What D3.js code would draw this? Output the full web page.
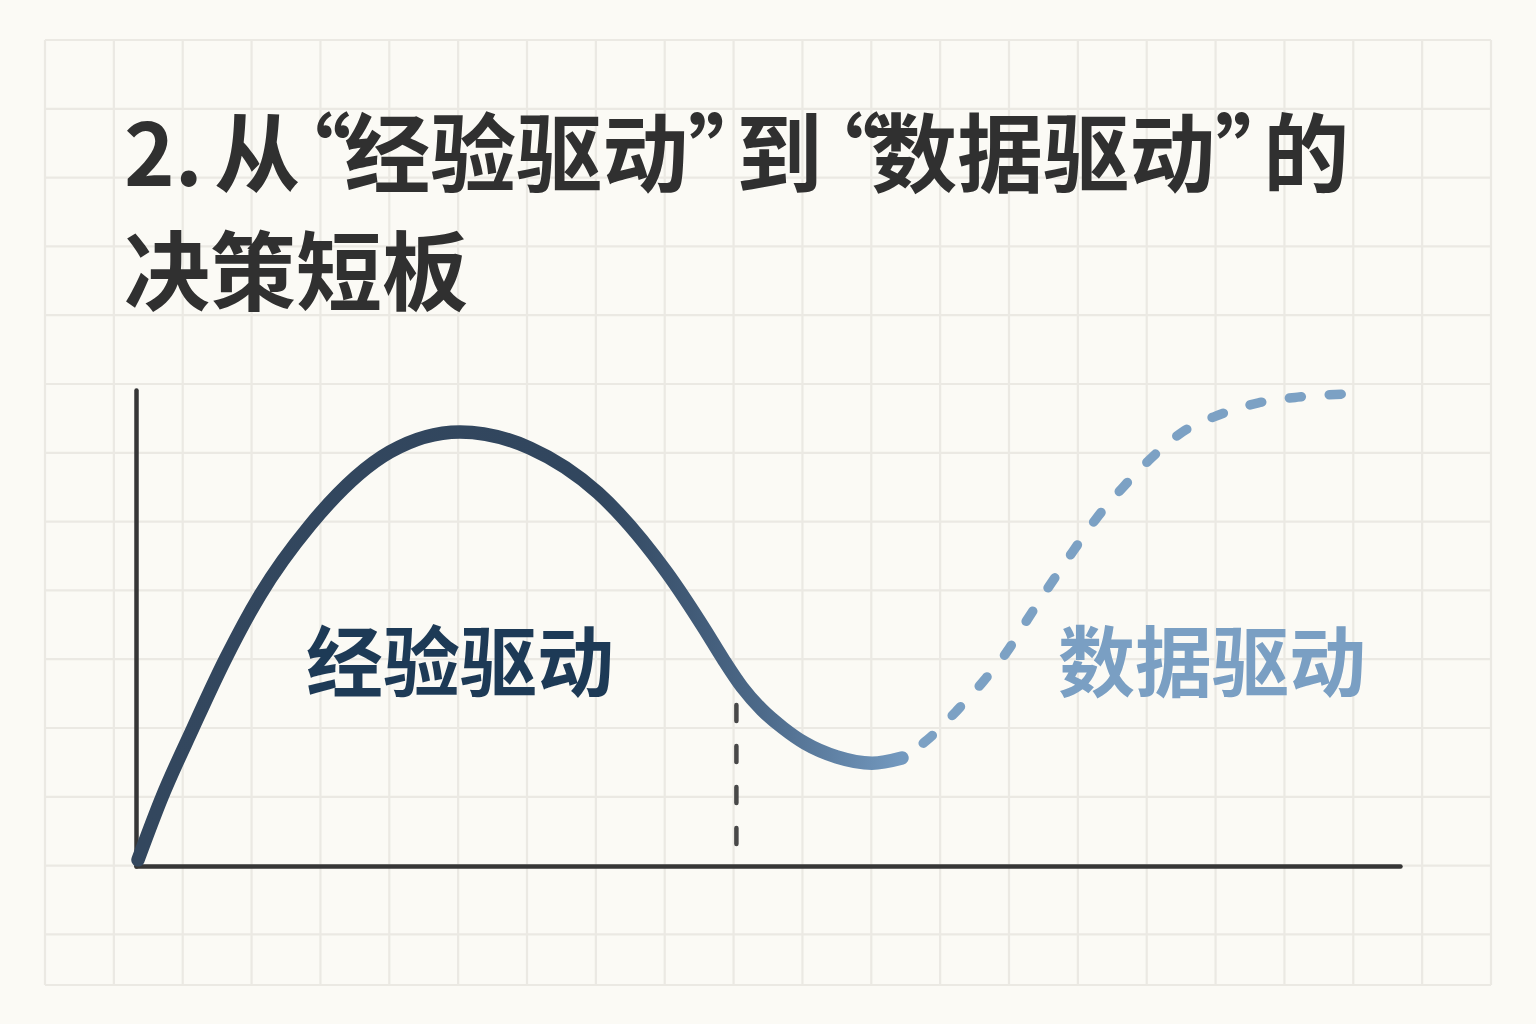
<!DOCTYPE html>
<html lang="zh-CN">
<head>
<meta charset="utf-8">
<script src="https://cdn.jsdelivr.net/npm/d3@7"></script>
<style>
  html, body { margin: 0; padding: 0; background: #fbfaf5; }
  svg { display: block; }
  text { font-family: "Noto Sans CJK SC", "Noto Sans", sans-serif; font-weight: 700; }
</style>
</head>
<body>
<svg id="chart" width="1536" height="1024"></svg>
<script>
// title lines
var titleLines = ["2. 从“经验驱动”到“数据驱动”的", "决策短板"];
// per-character nudges so the curly quotes sit tight like in the original
var titleDx = [[0, 0, 0, -8, -35, -7, 0, 0, 0, 0, -38, -27, -10, 0, 0, 0, 0, -38], []];

// phase labels
var phaseLabels = ["经验驱动", "数据驱动"];

// experience-driven curve (solid), x and y in 0-100 units
var expX = [0.16, 2.06, 4.51, 7.04, 9.81, 13.77, 20.09, 25.63, 31.17, 36.55, 42.01, 45.02, 46.44, 47.94, 49.53, 51.19, 52.93, 55.46, 58.23, 60.60];
var expY = [1.3, 14.5, 29.0, 43.3, 56.9, 71.6, 87.0, 91.2, 87.8, 78.4, 61.6, 49.6, 43.5, 37.6, 32.8, 29.0, 25.8, 22.9, 21.6, 22.7];

// data-driven curve (dashed)
var dataX = [60.6, 62.6, 65.0, 67.0, 68.9, 70.5, 72.3, 74.1, 76.0, 78.1, 80.4, 82.8, 85.6, 88.8, 91.9, 96.0];
var dataY = [22.7, 26.5, 32.8, 38.7, 45.0, 51.7, 59.0, 66.0, 73.1, 79.6, 85.9, 91.2, 94.7, 97.3, 98.5, 99.2];

// turning-point marker
var markerX = 47.5;
var markerY = [3.4, 33.8];

var svg = d3.select("#chart");
var W = 1536, H = 1024;

// background + grid paper
svg.append("rect").attr("width", W).attr("height", H).attr("fill", "#fbfaf5");

var gx0 = 45, gx1 = 1491, gy0 = 40, gy1 = 985, cell = 68.8;
var grid = svg.append("g").attr("stroke", "#ebe9e3").attr("stroke-width", 2.2);
d3.range(0, 22).forEach(function(i) {
  var x = gx0 + i * (gx1 - gx0) / 21;
  grid.append("line").attr("x1", x).attr("x2", x).attr("y1", gy0).attr("y2", gy1);
});
d3.range(0, 14).forEach(function(j) {
  var y = gy0 + j * cell;
  grid.append("line").attr("x1", gx0).attr("x2", gx1).attr("y1", y).attr("y2", y);
});
grid.append("line").attr("x1", gx0).attr("x2", gx1).attr("y1", gy1).attr("y2", gy1);

// title
svg.append("g").selectAll("text")
  .data(titleLines)
  .join("text")
    .attr("x", 124)
    .attr("y", function(d, i) { return 186 + i * 118; })
    .attr("dx", function(d, i) { return titleDx[i].join(" "); })
    .attr("font-size", 86)
    .attr("fill", "#303030")
    .text(function(d) { return d; });

// scales
var x = d3.scaleLinear().domain([0, 100]).range([136, 1400]);
var y = d3.scaleLinear().domain([0, 100]).range([866, 390]);

// axes (lines only)
var xAxis = svg.append("g").attr("transform", "translate(0," + y(0) + ")")
  .call(d3.axisBottom(x).ticks(0).tickSizeOuter(0));
var yAxis = svg.append("g").attr("transform", "translate(" + x(0) + ",0)")
  .call(d3.axisLeft(y).ticks(0).tickSizeOuter(0));
[xAxis, yAxis].forEach(function(g) {
  g.select(".domain").attr("stroke", "#363636").attr("stroke-width", 4.5).attr("stroke-linecap", "round");
});

// gradient for the solid curve
var grad = svg.append("defs").append("linearGradient")
  .attr("id", "expGrad").attr("gradientUnits", "userSpaceOnUse")
  .attr("x1", x(0)).attr("x2", x(60.6)).attr("y1", 0).attr("y2", 0);
grad.append("stop").attr("offset", "0%").attr("stop-color", "#33475e");
grad.append("stop").attr("offset", "60%").attr("stop-color", "#31465e");
grad.append("stop").attr("offset", "82%").attr("stop-color", "#4d6a8a");
grad.append("stop").attr("offset", "100%").attr("stop-color", "#7399bf");

var line = d3.line()
  .x(function(d) { return x(d[0]); })
  .y(function(d) { return y(d[1]); })
  .curve(d3.curveMonotoneX);

// dashed turning marker
svg.append("line")
  .attr("x1", x(markerX)).attr("x2", x(markerX))
  .attr("y1", y(markerY[1])).attr("y2", y(markerY[0]))
  .attr("stroke", "#484848").attr("stroke-width", 4.5)
  .attr("stroke-linecap", "round").attr("stroke-dasharray", "16 25");

svg.append("path")
  .datum(d3.zip(dataX, dataY))
  .attr("d", line)
  .attr("fill", "none")
  .attr("stroke", "#7ca1c4")
  .attr("stroke-width", 9.5)
  .attr("stroke-linecap", "round")
  .attr("stroke-dasharray", "12 28")
  .attr("stroke-dashoffset", -26);

svg.append("path")
  .datum(d3.zip(expX, expY))
  .attr("d", line)
  .attr("fill", "none")
  .attr("stroke", "url(#expGrad)")
  .attr("stroke-width", 13.5)
  .attr("stroke-linecap", "round");

// phase labels
svg.append("g").selectAll("text")
  .data(phaseLabels)
  .join("text")
    .attr("x", function(d, i) { return i === 0 ? 460 : 1212; })
    .attr("y", 691)
    .attr("text-anchor", "middle")
    .attr("font-size", 77)
    .attr("fill", function(d, i) { return i === 0 ? "#1d3a56" : "#7a9fc3"; })
    .text(function(d) { return d; });
</script>
</body>
</html>
